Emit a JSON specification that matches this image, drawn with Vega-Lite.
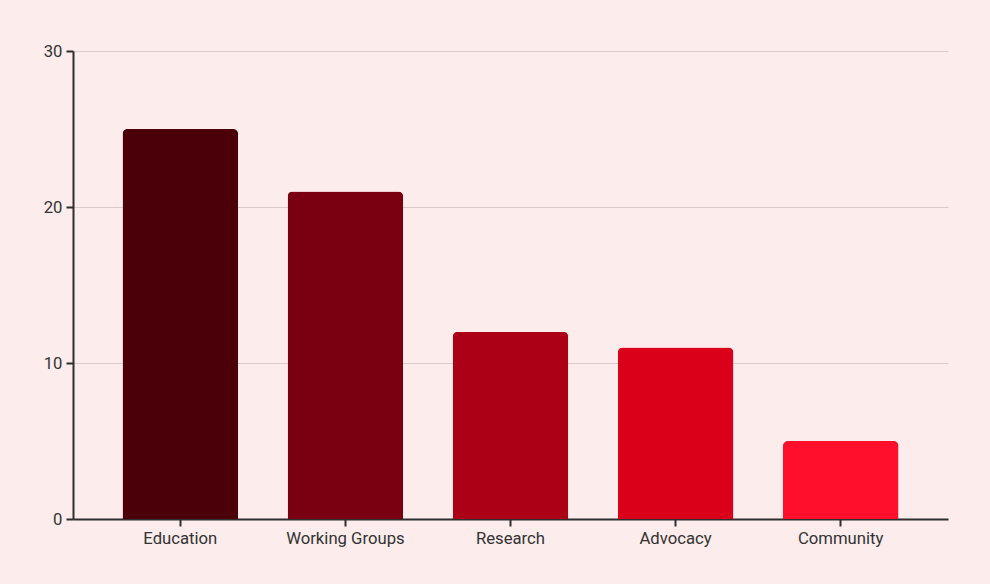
{
  "$schema": "https://vega.github.io/schema/vega-lite/v6.json",
  "width": 875,
  "height": 468,
  "autosize": {"type": "none"},
  "padding": {"left": 73, "top": 51, "right": 42, "bottom": 65},
  "background": "#fcecec",
  "config": {
    "font": "Roboto",
    "view": {"stroke": null},
    "axis": {
      "labelFont": "Roboto",
      "labelFontSize": 16.7,
      "labelColor": "#333333",
      "domainColor": "#2e2e2e",
      "domainWidth": 2,
      "tickColor": "#2e2e2e",
      "tickWidth": 2,
      "tickSize": 7,
      "gridColor": "#dccaca",
      "gridWidth": 1
    }
  },
  "data": {
    "values": [
      {"category": "Education", "value": 25, "color": "#4b0009"},
      {"category": "Working Groups", "value": 21, "color": "#7a0011"},
      {"category": "Research", "value": 12, "color": "#ab0016"},
      {"category": "Advocacy", "value": 11, "color": "#db0019"},
      {"category": "Community", "value": 5, "color": "#ff0f2b"}
    ]
  },
  "mark": {"type": "bar", "cornerRadiusTopLeft": 5, "cornerRadiusTopRight": 5},
  "encoding": {
    "x": {
      "field": "category",
      "type": "nominal",
      "sort": null,
      "scale": {"paddingInner": 0.3, "paddingOuter": 0.3},
      "axis": {"title": null, "labelAngle": 0, "labelPadding": 4, "grid": false}
    },
    "y": {
      "field": "value",
      "type": "quantitative",
      "scale": {"domain": [0, 30]},
      "axis": {"title": null, "values": [0, 10, 20, 30], "labelPadding": 4, "grid": true}
    },
    "color": {"field": "color", "type": "nominal", "scale": null, "legend": null}
  }
}
